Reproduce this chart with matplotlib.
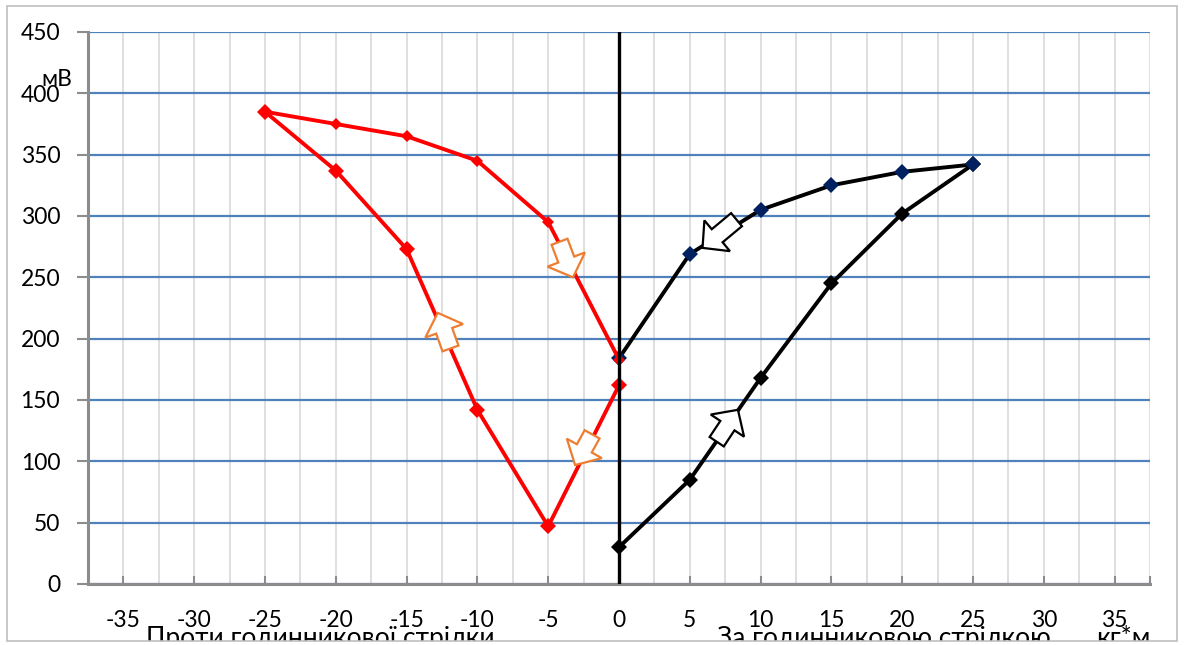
"""
Hysteresis loop of sensor output (mV) vs torque (kg*m), both rotation directions.
"""

import numpy as np
import matplotlib
matplotlib.use("Agg")
import matplotlib.pyplot as plt
from matplotlib.patches import Polygon, Rectangle

plt.rcParams['font.family'] = ['Lato', 'DejaVu Sans']
plt.rcParams['axes.unicode_minus'] = False

# Counter-clockwise loop (red)
ccw_up_x = [-25, -20, -15, -10, -5, 0]
ccw_up_y = [385, 375, 365, 345, 295, 183]
ccw_low_x = [0, -5, -10, -15, -20, -25]
ccw_low_y = [162, 47, 142, 273, 337, 385]

# Clockwise loop (black / navy)
cw_up_x = [0, 5, 10, 15, 20, 25]
cw_up_y = [184, 269, 305, 325, 336, 342]
cw_low_x = [0, 5, 10, 15, 20, 25]
cw_low_y = [30, 85, 168, 245, 302, 342]

x_ticks = [-35, -30, -25, -20, -15, -10, -5, 0, 5, 10, 15, 20, 25, 30, 35]
y_ticks = [0, 50, 100, 150, 200, 250, 300, 350, 400, 450]

# direction arrows: (tail x, tail y, tip x, tip y, edge colour)
arrows = [
    (8.3, 297, 5.9, 274, 'black'),
    (6.9, 116, 8.4, 142, 'black'),
    (-11.9, 192, -12.8, 221, '#ED7D31'),
    (-1.9, 122, -3.1, 97, '#ED7D31'),
    (-4.2, 279, -3.25, 250, '#ED7D31'),
]

W, H = 1184, 645
FS = 16.5
CAP_FS = 19
fig = plt.figure(figsize=(W / 100, H / 100), dpi=100)
ax = fig.add_axes([88 / W, 61 / H, (1150 - 88) / W, (584 - 32) / H])

AXIS_GRAY = '#8C8C8C'

ax.set_xlim(-37.5, 37.5)
ax.set_ylim(0, 450)

ax.set_xticks(x_ticks + [37.5])
ax.set_xticklabels([str(v) for v in x_ticks] + [''])
ax.set_xticks(np.arange(-35, 37.6, 2.5), minor=True)
ax.set_yticks(y_ticks)
ax.set_yticklabels([str(v) for v in y_ticks])

ax.tick_params(axis='x', which='major', direction='in', length=6, width=1.5,
               color=AXIS_GRAY, pad=19, labelsize=FS)
ax.tick_params(axis='x', which='minor', length=0)
ax.tick_params(axis='y', direction='out', length=8, width=1.5,
               color=AXIS_GRAY, pad=12, labelsize=FS)

ax.grid(True, axis='x', which='both', color='#D9D9D9', linewidth=1.2)
ax.grid(True, axis='y', which='major', color='#4F81BD', linewidth=1.6)
ax.set_axisbelow(True)

for side in ('top', 'right'):
    ax.spines[side].set_visible(False)
for side in ('left', 'bottom'):
    ax.spines[side].set_color(AXIS_GRAY)
    ax.spines[side].set_linewidth(2.2)
    ax.spines[side].set_zorder(3)

# series
ax.plot(cw_low_x, cw_low_y, color='black', lw=2.8, marker='D', ms=8.5,
        mfc='black', mec='black', mew=0, zorder=4)
ax.plot(cw_up_x, cw_up_y, color='black', lw=2.8, marker='D', ms=8.5,
        mfc='#002060', mec='#002060', mew=0, zorder=4)
ax.plot(ccw_low_x, ccw_low_y, color='#FF0000', lw=2.8, marker='D', ms=8.5,
        mfc='#FF0000', mew=0, zorder=5)
ax.plot(ccw_up_x, ccw_up_y, color='#FF0000', lw=2.8, marker='D', ms=6,
        mfc='#FF0000', mew=0, zorder=5)

# zero-torque line
ax.plot([0, 0], [0, 450], color='black', lw=2.4, zorder=6)


def block_arrow(ax, x0, y0, x1, y1, color):
    """Hollow block arrow drawn in pixel space between two data points."""
    p0 = ax.transData.transform((x0, y0))
    p1 = ax.transData.transform((x1, y1))
    d = p1 - p0
    length = np.hypot(*d)
    u = d / length
    n = np.array([-u[1], u[0]])
    head_len, head_w, tail_w = 19.0, 40.0, 17.0
    base = p1 - u * head_len
    pts = [
        p0 + n * tail_w / 2,
        base + n * tail_w / 2,
        base + n * head_w / 2,
        p1,
        base - n * head_w / 2,
        base - n * tail_w / 2,
        p0 - n * tail_w / 2,
    ]
    pts = ax.transData.inverted().transform(np.array(pts))
    ax.add_patch(Polygon(pts, closed=True, facecolor='white', edgecolor=color,
                         linewidth=1.6, zorder=7))


for x0, y0, x1, y1, c in arrows:
    block_arrow(ax, x0, y0, x1, y1, c)

# axis captions
fig.text(57 / W, 1 - 80 / H, 'мВ', fontsize=FS, ha='center', va='center')
fig.text(320 / W, -1 / H, 'Проти годинникової стрілки', fontsize=CAP_FS,
         ha='center', va='baseline')
fig.text(884 / W, -1 / H, 'За годинниковою стрілкою', fontsize=CAP_FS,
         ha='center', va='baseline')
fig.text(1123 / W, -1 / H, 'кг*м', fontsize=CAP_FS, ha='center', va='baseline')

# chart frame: hides the part of the captions below the border
fig.add_artist(Rectangle((0, 0), 1, 4 / H, transform=fig.transFigure,
                         facecolor='white', edgecolor='none', zorder=20))
fig.add_artist(Rectangle((7 / W, 4 / H), (1177 - 7) / W, (639 - 4) / H,
                         transform=fig.transFigure, facecolor='none',
                         edgecolor='#BFBFBF', linewidth=1.2, zorder=21))

fig.savefig('out.png', dpi=100)
